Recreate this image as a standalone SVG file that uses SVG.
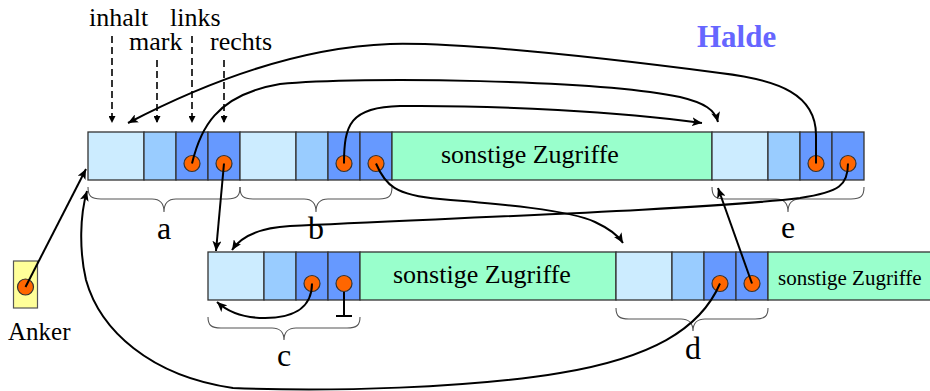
<svg xmlns="http://www.w3.org/2000/svg" width="930" height="391" viewBox="0 0 930 391">
  <style>
    .cell { stroke: #333333; stroke-width: 1.3; }
    .inh { fill: #CCECFF; }
    .mrk { fill: #99CCFF; }
    .ptr { fill: #6699FF; }
    .oth { fill: #99FFCC; }
    .dot { fill: #FF6600; stroke: #333333; stroke-width: 1.2; }
    .brace { fill: none; stroke: #555555; stroke-width: 1.1; }
    .link { fill: none; stroke: #000000; stroke-width: 2; marker-end: url(#head); }
    .dash { fill: none; stroke: #000000; stroke-width: 1.6; stroke-dasharray: 7 4; marker-end: url(#smallhead); }
  </style>
  <defs>
    <marker id="head" markerUnits="userSpaceOnUse" markerWidth="11" markerHeight="9" refX="10" refY="4.5" orient="auto">
      <path d="M0,0 L10,4.5 L0,9 L2.5,4.5 z" fill="#000000"/>
    </marker>
    <marker id="smallhead" markerUnits="userSpaceOnUse" markerWidth="8" markerHeight="7" refX="7" refY="3.5" orient="auto">
      <path d="M0,0 L7,3.5 L0,7 z" fill="#000000"/>
    </marker>
  </defs>

  <rect width="930" height="391" fill="#FFFFFF"/>

  <!-- heap title -->
  <text x="697" y="47" font-family="Liberation Serif" font-size="31" font-weight="bold" fill="#6666FF">Halde</text>

  <!-- field names -->
  <g id="field-labels">
    <text x="89" y="26" font-family="Liberation Serif" font-size="26">inhalt</text>
    <text x="170" y="26" font-family="Liberation Serif" font-size="26">links</text>
    <text x="129" y="50" font-family="Liberation Serif" font-size="26">mark</text>
    <text x="210" y="50" font-family="Liberation Serif" font-size="26">rechts</text>
  </g>

  <!-- anchor -->
  <g id="anker">
    <rect x="13.5" y="261" width="24" height="47" fill="#FFFF99" stroke="#555555" stroke-width="1.2"/>
    <circle class="dot" cx="25.5" cy="287" r="8"/>
    <text x="8" y="340" font-family="Liberation Serif" font-size="25">Anker</text>
  </g>

  <!-- upper heap row -->
  <g id="node-a">
    <rect class="cell inh" x="88" y="132" width="56" height="48"/>
    <rect class="cell mrk" x="144" y="132" width="32" height="48"/>
    <rect class="cell ptr" x="176" y="132" width="32" height="48"/>
    <rect class="cell ptr" x="208" y="132" width="32" height="48"/>
    <circle class="dot" cx="192" cy="163.5" r="8"/>
    <circle class="dot" cx="224" cy="163.5" r="8"/>
  </g>
  <g id="node-b">
    <rect class="cell inh" x="240" y="132" width="56" height="48"/>
    <rect class="cell mrk" x="296" y="132" width="32" height="48"/>
    <rect class="cell ptr" x="328" y="132" width="32" height="48"/>
    <rect class="cell ptr" x="360" y="132" width="32" height="48"/>
    <circle class="dot" cx="344" cy="163.5" r="8"/>
    <circle class="dot" cx="376" cy="163.5" r="8"/>
  </g>
  <g id="other-1">
    <rect class="cell oth" x="392" y="132" width="320" height="48"/>
    <text x="441" y="163" font-family="Liberation Serif" font-size="26">sonstige Zugriffe</text>
  </g>
  <g id="node-e">
    <rect class="cell inh" x="712" y="132" width="56" height="48"/>
    <rect class="cell mrk" x="768" y="132" width="32" height="48"/>
    <rect class="cell ptr" x="800" y="132" width="32" height="48"/>
    <rect class="cell ptr" x="832" y="132" width="32" height="48"/>
    <circle class="dot" cx="816" cy="163.5" r="8"/>
    <circle class="dot" cx="848" cy="163.5" r="8"/>
  </g>

  <!-- lower heap row -->
  <g id="node-c">
    <rect class="cell inh" x="208" y="252" width="56" height="48"/>
    <rect class="cell mrk" x="264" y="252" width="32" height="48"/>
    <rect class="cell ptr" x="296" y="252" width="32" height="48"/>
    <rect class="cell ptr" x="328" y="252" width="32" height="48"/>
    <circle class="dot" cx="312" cy="283.5" r="8"/>
    <path d="M344,291.5 L344,316 M336,316 L352,316" fill="none" stroke="#000000" stroke-width="2"/>
    <circle class="dot" cx="344" cy="283.5" r="8"/>
  </g>
  <g id="other-2">
    <rect class="cell oth" x="360" y="252" width="256" height="48"/>
    <text x="393" y="283" font-family="Liberation Serif" font-size="26">sonstige Zugriffe</text>
  </g>
  <g id="node-d">
    <rect class="cell inh" x="616" y="252" width="56" height="48"/>
    <rect class="cell mrk" x="672" y="252" width="32" height="48"/>
    <rect class="cell ptr" x="704" y="252" width="32" height="48"/>
    <rect class="cell ptr" x="736" y="252" width="32" height="48"/>
    <circle class="dot" cx="720" cy="283.5" r="8"/>
    <circle class="dot" cx="752" cy="283.5" r="8"/>
  </g>
  <g id="other-3">
    <rect class="cell oth" x="768" y="252" width="170" height="48"/>
    <text x="778" y="285" font-family="Liberation Serif" font-size="21">sonstige Zugriffe</text>
  </g>

  <!-- braces and node names -->
  <g id="braces">
    <path class="brace" d="M88,187 C88,196 91,199 101,199 L152,199 C159,199 164,203 164,212 C164,203 169,199 176,199 L227,199 C237,199 240,196 240,187"/>
    <path class="brace" d="M240,187 C240,196 243,199 253,199 L304,199 C311,199 316,203 316,212 C316,203 321,199 328,199 L379,199 C389,199 392,196 392,187"/>
    <path class="brace" d="M712,187 C712,196 715,199 725,199 L776,199 C783,199 788,203 788,212 C788,203 793,199 800,199 L851,199 C861,199 864,196 864,187"/>
    <path class="brace" d="M208,317 C208,325 211,328 221,328 L272,328 C279,328 284,332 284,340 C284,332 289,328 296,328 L347,328 C357,328 360,325 360,317"/>
    <path class="brace" d="M616,308 C616,316 619,319 629,319 L681,319 C688,319 693,323 693,331 C693,323 698,319 705,319 L755,319 C765,319 768,316 768,308"/>
    <text x="164" y="239" font-family="Liberation Serif" font-size="32" text-anchor="middle">a</text>
    <text x="316" y="239" font-family="Liberation Serif" font-size="32" text-anchor="middle">b</text>
    <text x="788" y="238" font-family="Liberation Serif" font-size="32" text-anchor="middle">e</text>
    <text x="284" y="366" font-family="Liberation Serif" font-size="32" text-anchor="middle">c</text>
    <text x="693" y="359" font-family="Liberation Serif" font-size="32" text-anchor="middle">d</text>
  </g>

  <!-- pointers -->
  <g id="connectors">
    <path class="dash" d="M112,36 L112,123"/>
    <path class="dash" d="M157,60 L157,123"/>
    <path class="dash" d="M192,36 L192,123"/>
    <path class="dash" d="M224,60 L224,123"/>

    <path class="link" d="M25.5,287 L86,169"/>
    <path class="link" d="M816,163.5 L816,135 C816,95 780,80 720,73 C620,60 470,42 390,44 C310,47 220,75 128,123"/>
    <path class="link" d="M192,163.5 C200,130 215,95 280,84 C360,76 600,80 680,97 C705,103 715,110 718,122"/>
    <path class="link" d="M344,163.5 C344,125 350,107 400,106 C500,105 620,112 702,123"/>
    <path class="link" d="M224,163.5 L216,251"/>
    <path class="link" d="M376,163.5 C385,185 395,195 440,199 C500,204 570,210 595,222 C610,229 618,235 623,243"/>
    <path class="link" d="M848,163.5 C848,185 840,192 800,198 C700,210 450,218 290,226 C255,228 240,238 232,250"/>
    <path class="link" d="M752,283.5 L718,188"/>
    <path class="link" d="M720,283.5 C700,330 650,358 560,373 C470,388 330,392 233,388 C150,376 100,330 86,280 C79,250 80,215 87,191"/>
    <path class="link" d="M312,283.5 C312,310 290,318 265,318 C245,318 228,312 217,302"/>
  </g>
</svg>
